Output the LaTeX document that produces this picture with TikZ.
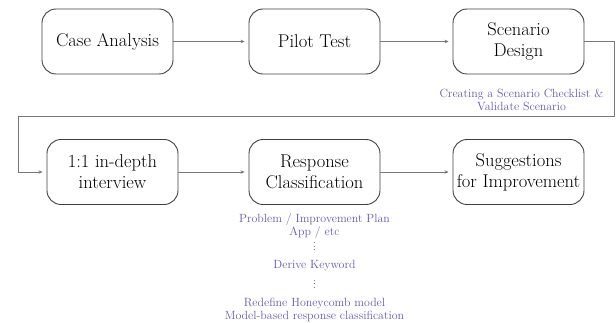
\documentclass[tikz,border=0pt]{standalone}
\usepackage{tikz}
\usetikzlibrary{arrows.meta,positioning}
\definecolor{notecol}{RGB}{100,90,170}
\definecolor{linecol}{RGB}{120,120,120}
\newcommand{\notedots}{\vbox{\baselineskip3.5pt\lineskiplimit0pt\hbox{.}\hbox{.}\hbox{.}}}
\tikzset{>={Stealth[length=4pt,width=3.5pt]},main node/.style={rectangle,rounded corners=14pt,draw=black!75,line width=0.9pt,minimum width=131pt,minimum height=65pt,inner sep=0pt,align=center,font=\fontsize{18.5}{21}\selectfont},note/.style={text=notecol,align=center,inner sep=0pt,font=\fontsize{11.9}{13}\selectfont},edge/.style={draw=linecol,line width=0.7pt,shorten >=4pt}}

\begin{document}
\begin{tikzpicture}
    \useasboundingbox (0,0) rectangle (616pt,-323pt);
    \node[main node] (case) at (107.5pt,-41.5pt) {Case Analysis};
    \node[main node, on grid] (pilot) [right = 207pt of case] {Pilot Test};
    \node[main node, on grid] (scen) [right = 204pt of pilot] {Scenario\\Design};
    \node[main node, on grid] (inter) [below right = 130.5pt and 5pt of case] {1:1 in-depth\\interview};
    \node[main node, on grid] (resp) [below = 130.5pt of pilot] {Response\\Classification};
    \node[main node, on grid] (sugg) [below = 130.5pt of scen] {Suggestions\\for Improvement};
    \path[edge] (case) edge [->] (pilot);
    \path[edge] (pilot) edge [->] (scen);
    \path[edge] (inter) edge [->] (resp);
    \path[edge] (resp) edge [->] (sugg);

    % notes
    \node[note, on grid] (check) [below right = 58pt and 3pt of scen] {Creating a Scenario Checklist \&\\Validate Scenario};
    \node[note, on grid] (plan) [below = 54.5pt of resp] {Problem / Improvement Plan\\App / etc};
    \node[note, on grid] (dotsA) [below = 74.5pt of resp] {\notedots};
    \node[note, on grid] (key) [below = 94pt of resp] {Derive Keyword};
    \node[note, on grid] (dotsB) [below = 112pt of resp] {\notedots};
    \node[note, on grid] (honey) [below = 137.5pt of resp] {Redefine Honeycomb model\\Model-based response classification};

    % line back to the second row
    \coordinate (rtop) at (614pt,-116pt);
    \coordinate (ltop) at (18pt,-116pt);
    \draw[edge,->] (scen.east) -- (scen.east -| rtop) -- (rtop) -- (ltop) -- (ltop |- inter.west) -- (inter.west);
\end{tikzpicture}
\end{document}
